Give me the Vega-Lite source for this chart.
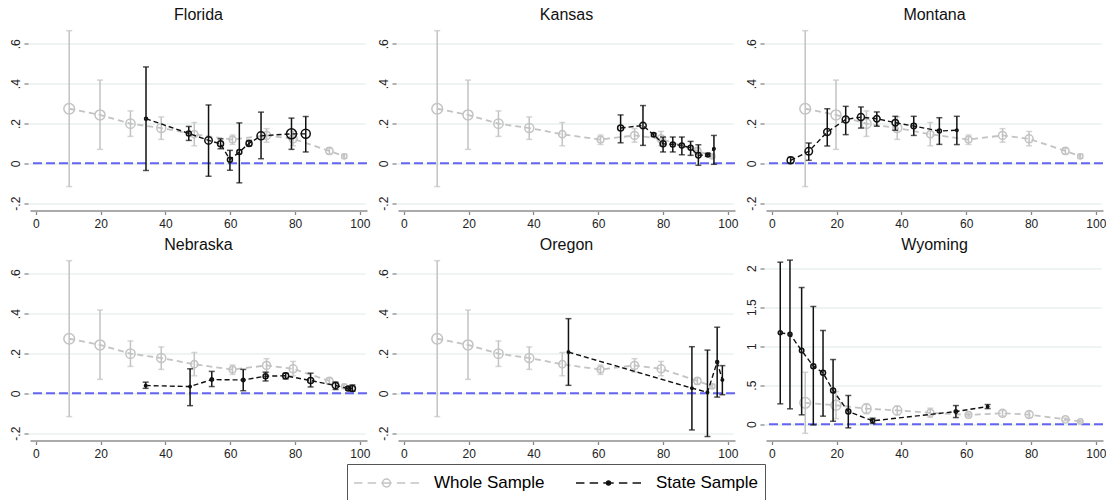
{
  "$schema": "https://vega.github.io/schema/vega-lite/v6.json",
  "padding": {"left": 9, "top": 6.5, "right": 0, "bottom": 0},
  "autosize": {"type": "pad"},
  "columns": 3,
  "spacing": {"row": 48, "column": 31},
  "bounds": "flush",
  "datasets": {
    "whole": [
      {"x": 10.3, "y": 0.274, "lo": -0.117, "hi": 0.666, "w": 114},
      {"x": 19.8, "y": 0.243, "lo": 0.07, "hi": 0.418, "w": 100},
      {"x": 29.2, "y": 0.199, "lo": 0.135, "hi": 0.263, "w": 86},
      {"x": 38.7, "y": 0.177, "lo": 0.12, "hi": 0.233, "w": 81},
      {"x": 48.9, "y": 0.146, "lo": 0.088, "hi": 0.205, "w": 53},
      {"x": 60.7, "y": 0.119, "lo": 0.095, "hi": 0.142, "w": 45},
      {"x": 71.2, "y": 0.14, "lo": 0.106, "hi": 0.174, "w": 64},
      {"x": 79.4, "y": 0.123, "lo": 0.088, "hi": 0.16, "w": 64},
      {"x": 90.6, "y": 0.062, "lo": 0.045, "hi": 0.078, "w": 53},
      {"x": 95.2, "y": 0.035, "lo": 0.025, "hi": 0.045, "w": 28}
    ],
    "state": [
      {"state": "Florida", "x": 34.0, "y": 0.224, "lo": -0.036, "hi": 0.484, "w": 9},
      {"state": "Florida", "x": 47.2, "y": 0.15, "lo": 0.115, "hi": 0.185, "w": 25},
      {"state": "Florida", "x": 53.3, "y": 0.115, "lo": -0.065, "hi": 0.293, "w": 56},
      {"state": "Florida", "x": 57.0, "y": 0.098, "lo": 0.073, "hi": 0.123, "w": 36},
      {"state": "Florida", "x": 59.9, "y": 0.018, "lo": -0.035, "hi": 0.065, "w": 25},
      {"state": "Florida", "x": 62.8, "y": 0.057, "lo": -0.098, "hi": 0.203, "w": 25},
      {"state": "Florida", "x": 65.8, "y": 0.1, "lo": 0.088, "hi": 0.115, "w": 36},
      {"state": "Florida", "x": 69.5, "y": 0.138, "lo": 0.023, "hi": 0.257, "w": 64},
      {"state": "Florida", "x": 78.9, "y": 0.148, "lo": 0.07, "hi": 0.227, "w": 100},
      {"state": "Florida", "x": 83.3, "y": 0.148, "lo": 0.057, "hi": 0.235, "w": 81},
      {"state": "Kansas", "x": 66.9, "y": 0.177, "lo": 0.103, "hi": 0.243, "w": 36},
      {"state": "Kansas", "x": 73.8, "y": 0.19, "lo": 0.09, "hi": 0.29, "w": 42},
      {"state": "Kansas", "x": 77.1, "y": 0.143, "lo": 0.135, "hi": 0.15, "w": 20},
      {"state": "Kansas", "x": 80.0, "y": 0.098, "lo": 0.057, "hi": 0.132, "w": 36},
      {"state": "Kansas", "x": 83.0, "y": 0.095, "lo": 0.057, "hi": 0.132, "w": 25},
      {"state": "Kansas", "x": 85.8, "y": 0.09, "lo": 0.043, "hi": 0.132, "w": 25},
      {"state": "Kansas", "x": 88.5, "y": 0.078, "lo": 0.04, "hi": 0.11, "w": 25},
      {"state": "Kansas", "x": 90.9, "y": 0.04, "lo": -0.01, "hi": 0.093, "w": 30},
      {"state": "Kansas", "x": 93.8, "y": 0.042, "lo": 0.035, "hi": 0.05, "w": 16},
      {"state": "Kansas", "x": 95.7, "y": 0.073, "lo": -0.005, "hi": 0.14, "w": 6},
      {"state": "Montana", "x": 5.8, "y": 0.015, "lo": 0.0, "hi": 0.03, "w": 49},
      {"state": "Montana", "x": 11.4, "y": 0.06, "lo": 0.015, "hi": 0.102, "w": 56},
      {"state": "Montana", "x": 17.1, "y": 0.157, "lo": 0.087, "hi": 0.274, "w": 49},
      {"state": "Montana", "x": 22.8, "y": 0.22, "lo": 0.144, "hi": 0.286, "w": 49},
      {"state": "Montana", "x": 27.5, "y": 0.232, "lo": 0.177, "hi": 0.283, "w": 49},
      {"state": "Montana", "x": 32.4, "y": 0.224, "lo": 0.186, "hi": 0.258, "w": 42},
      {"state": "Montana", "x": 38.1, "y": 0.204, "lo": 0.166, "hi": 0.236, "w": 42},
      {"state": "Montana", "x": 43.8, "y": 0.187, "lo": 0.14, "hi": 0.236, "w": 30},
      {"state": "Montana", "x": 51.7, "y": 0.162, "lo": 0.095, "hi": 0.229, "w": 16},
      {"state": "Montana", "x": 57.1, "y": 0.166, "lo": 0.094, "hi": 0.236, "w": 6},
      {"state": "Nebraska", "x": 33.9, "y": 0.039, "lo": 0.025, "hi": 0.056, "w": 6},
      {"state": "Nebraska", "x": 47.6, "y": 0.034, "lo": -0.062, "hi": 0.123, "w": 6},
      {"state": "Nebraska", "x": 54.3, "y": 0.069, "lo": 0.034, "hi": 0.11, "w": 12},
      {"state": "Nebraska", "x": 64.0, "y": 0.067, "lo": 0.013, "hi": 0.12, "w": 12},
      {"state": "Nebraska", "x": 70.9, "y": 0.086, "lo": 0.062, "hi": 0.106, "w": 25},
      {"state": "Nebraska", "x": 77.1, "y": 0.088, "lo": 0.072, "hi": 0.101, "w": 36},
      {"state": "Nebraska", "x": 84.8, "y": 0.064, "lo": 0.032, "hi": 0.101, "w": 36},
      {"state": "Nebraska", "x": 92.5, "y": 0.039, "lo": 0.019, "hi": 0.056, "w": 42},
      {"state": "Nebraska", "x": 96.4, "y": 0.024, "lo": 0.015, "hi": 0.033, "w": 25},
      {"state": "Nebraska", "x": 97.7, "y": 0.024, "lo": 0.01, "hi": 0.042, "w": 36},
      {"state": "Oregon", "x": 50.8, "y": 0.207, "lo": 0.04, "hi": 0.375, "w": 6},
      {"state": "Oregon", "x": 88.9, "y": 0.026, "lo": -0.184, "hi": 0.234, "w": 6},
      {"state": "Oregon", "x": 93.7, "y": 0.005, "lo": -0.217, "hi": 0.217, "w": 6},
      {"state": "Oregon", "x": 96.7, "y": 0.157, "lo": -0.019, "hi": 0.332, "w": 9},
      {"state": "Oregon", "x": 98.3, "y": 0.067, "lo": -0.007, "hi": 0.139, "w": 6},
      {"state": "Wyoming", "x": 2.6, "y": 1.171, "lo": 0.261, "hi": 2.077, "w": 16},
      {"state": "Wyoming", "x": 5.6, "y": 1.154, "lo": 0.197, "hi": 2.103, "w": 16},
      {"state": "Wyoming", "x": 9.2, "y": 0.944, "lo": 0.12, "hi": 1.752, "w": 20},
      {"state": "Wyoming", "x": 12.8, "y": 0.744, "lo": -0.009, "hi": 1.509, "w": 25},
      {"state": "Wyoming", "x": 15.8, "y": 0.658, "lo": 0.103, "hi": 1.201, "w": 25},
      {"state": "Wyoming", "x": 18.9, "y": 0.432, "lo": 0.038, "hi": 0.829, "w": 25},
      {"state": "Wyoming", "x": 23.6, "y": 0.162, "lo": -0.047, "hi": 0.368, "w": 25},
      {"state": "Wyoming", "x": 31.1, "y": 0.043, "lo": 0.009, "hi": 0.077, "w": 16},
      {"state": "Wyoming", "x": 56.8, "y": 0.162, "lo": 0.085, "hi": 0.239, "w": 12},
      {"state": "Wyoming", "x": 66.6, "y": 0.226, "lo": 0.2, "hi": 0.252, "w": 6}
    ]
  },
  "concat": [
    {
      "title": "Florida", "width": 337, "height": 182,
      "layer": [
        {"data": {"values": [{}]}, "mark": {"type": "rule", "color": "#6464f0", "strokeWidth": 2, "strokeDash": [9, 4]},
         "encoding": {"y": {"datum": 0, "type": "quantitative", "scale": {"domain": [-0.237, 0.677], "nice": false, "zero": false}, "axis": {"values": [-0.2, 0, 0.2, 0.4, 0.6], "title": null}}}},
        {"encoding": {"x": {"field": "x", "type": "quantitative", "scale": {"domain": [-1.8, 102.2], "nice": false, "zero": false}, "axis": {"values": [0, 20, 40, 60, 80, 100], "title": null}}},
         "layer": [
          {"data": {"name": "whole"}, "mark": {"type": "errorbar", "ticks": {"color": "#c3c3c3"}, "rule": {"color": "#c3c3c3"}, "size": 6, "thickness": 1.5}, "encoding": {"y": {"field": "lo", "type": "quantitative", "title": null}, "y2": {"field": "hi"}}},
          {"data": {"name": "whole"}, "mark": {"type": "line", "strokeDash": [6, 4], "strokeWidth": 1.8}, "encoding": {"y": {"field": "y", "type": "quantitative", "title": null}, "color": {"datum": "Whole Sample", "type": "nominal", "scale": {"domain": ["Whole Sample", "State Sample"], "range": ["#c3c3c3", "#111111"]},
            "legend": {"orient": "none", "legendX": 317, "legendY": 435.5, "direction": "horizontal", "title": null, "symbolSize": 4225, "clipHeight": 26, "labelFontSize": 17, "labelFont": "Liberation Sans", "labelColor": "#000", "labelOffset": 14, "columnPadding": 30, "padding": 6, "strokeColor": "#555", "fillColor": "white", "symbolStrokeWidth": 1.5,
              "encode": {"symbols": {"update": {
                "shape": {"signal": "datum.value === 'Whole Sample' ? 'M-1,0H-0.74M-0.58,0H-0.32M-0.16,0H0.16M0.32,0H0.58M0.74,0H1M0.12,0A0.12,0.12,0,1,1,-0.12,0A0.12,0.12,0,1,1,0.12,0' : 'M-1,0H-0.74M-0.58,0H-0.32M-0.16,0H0.16M0.32,0H0.58M0.74,0H1M0.06,0A0.06,0.06,0,1,1,-0.06,0A0.06,0.06,0,1,1,0.06,0'"},
                "fill": {"signal": "datum.value === 'Whole Sample' ? 'transparent' : '#111111'"},
                "stroke": {"signal": "datum.value === 'Whole Sample' ? '#c3c3c3' : '#111111'"},
                "strokeDash": {"value": []},
                "opacity": {"value": 1}
              }}}}}}},
          {"data": {"name": "whole"}, "mark": {"type": "point", "shape": "circle", "filled": false, "color": "#c3c3c3", "strokeWidth": 1.5, "opacity": 1}, "encoding": {"y": {"field": "y", "type": "quantitative", "title": null}, "size": {"field": "w", "type": "quantitative", "scale": {"domain": [0, 100], "range": [0, 100]}, "legend": null}}},
          {"data": {"name": "state"}, "transform": [{"filter": "datum.state === 'Florida'"}], "mark": {"type": "errorbar", "ticks": {"color": "#111111"}, "rule": {"color": "#111111"}, "size": 6, "thickness": 1.5}, "encoding": {"y": {"field": "lo", "type": "quantitative", "title": null}, "y2": {"field": "hi"}}},
          {"data": {"name": "state"}, "transform": [{"filter": "datum.state === 'Florida'"}], "mark": {"type": "line", "strokeDash": [5, 3], "strokeWidth": 1.4}, "encoding": {"y": {"field": "y", "type": "quantitative", "title": null}, "color": {"datum": "State Sample", "type": "nominal"}}},
          {"data": {"name": "state"}, "transform": [{"filter": "datum.state === 'Florida'"}], "mark": {"type": "point", "shape": "circle", "filled": false, "color": "#111111", "strokeWidth": 1.5, "opacity": 1}, "encoding": {"y": {"field": "y", "type": "quantitative", "title": null}, "size": {"field": "w", "type": "quantitative", "legend": null}}}
         ]}
      ]
    },
    {
      "title": "Kansas", "width": 337, "height": 182,
      "layer": [
        {"data": {"values": [{}]}, "mark": {"type": "rule", "color": "#6464f0", "strokeWidth": 2, "strokeDash": [9, 4]},
         "encoding": {"y": {"datum": 0, "type": "quantitative", "scale": {"domain": [-0.237, 0.677], "nice": false, "zero": false}, "axis": {"values": [-0.2, 0, 0.2, 0.4, 0.6], "title": null}}}},
        {"encoding": {"x": {"field": "x", "type": "quantitative", "scale": {"domain": [-1.8, 102.2], "nice": false, "zero": false}, "axis": {"values": [0, 20, 40, 60, 80, 100], "title": null}}},
         "layer": [
          {"data": {"name": "whole"}, "mark": {"type": "errorbar", "ticks": {"color": "#c3c3c3"}, "rule": {"color": "#c3c3c3"}, "size": 6, "thickness": 1.5}, "encoding": {"y": {"field": "lo", "type": "quantitative", "title": null}, "y2": {"field": "hi"}}},
          {"data": {"name": "whole"}, "mark": {"type": "line", "strokeDash": [6, 4], "strokeWidth": 1.8}, "encoding": {"y": {"field": "y", "type": "quantitative", "title": null}, "color": {"datum": "Whole Sample", "type": "nominal"}}},
          {"data": {"name": "whole"}, "mark": {"type": "point", "shape": "circle", "filled": false, "color": "#c3c3c3", "strokeWidth": 1.5, "opacity": 1}, "encoding": {"y": {"field": "y", "type": "quantitative", "title": null}, "size": {"field": "w", "type": "quantitative", "legend": null}}},
          {"data": {"name": "state"}, "transform": [{"filter": "datum.state === 'Kansas'"}], "mark": {"type": "errorbar", "ticks": {"color": "#111111"}, "rule": {"color": "#111111"}, "size": 6, "thickness": 1.5}, "encoding": {"y": {"field": "lo", "type": "quantitative", "title": null}, "y2": {"field": "hi"}}},
          {"data": {"name": "state"}, "transform": [{"filter": "datum.state === 'Kansas'"}], "mark": {"type": "line", "strokeDash": [5, 3], "strokeWidth": 1.4}, "encoding": {"y": {"field": "y", "type": "quantitative", "title": null}, "color": {"datum": "State Sample", "type": "nominal"}}},
          {"data": {"name": "state"}, "transform": [{"filter": "datum.state === 'Kansas'"}], "mark": {"type": "point", "shape": "circle", "filled": false, "color": "#111111", "strokeWidth": 1.5, "opacity": 1}, "encoding": {"y": {"field": "y", "type": "quantitative", "title": null}, "size": {"field": "w", "type": "quantitative", "legend": null}}}
         ]}
      ]
    },
    {
      "title": "Montana", "width": 337, "height": 182,
      "layer": [
        {"data": {"values": [{}]}, "mark": {"type": "rule", "color": "#6464f0", "strokeWidth": 2, "strokeDash": [9, 4]},
         "encoding": {"y": {"datum": 0, "type": "quantitative", "scale": {"domain": [-0.237, 0.677], "nice": false, "zero": false}, "axis": {"values": [-0.2, 0, 0.2, 0.4, 0.6], "title": null}}}},
        {"encoding": {"x": {"field": "x", "type": "quantitative", "scale": {"domain": [-1.8, 102.2], "nice": false, "zero": false}, "axis": {"values": [0, 20, 40, 60, 80, 100], "title": null}}},
         "layer": [
          {"data": {"name": "whole"}, "mark": {"type": "errorbar", "ticks": {"color": "#c3c3c3"}, "rule": {"color": "#c3c3c3"}, "size": 6, "thickness": 1.5}, "encoding": {"y": {"field": "lo", "type": "quantitative", "title": null}, "y2": {"field": "hi"}}},
          {"data": {"name": "whole"}, "mark": {"type": "line", "strokeDash": [6, 4], "strokeWidth": 1.8}, "encoding": {"y": {"field": "y", "type": "quantitative", "title": null}, "color": {"datum": "Whole Sample", "type": "nominal"}}},
          {"data": {"name": "whole"}, "mark": {"type": "point", "shape": "circle", "filled": false, "color": "#c3c3c3", "strokeWidth": 1.5, "opacity": 1}, "encoding": {"y": {"field": "y", "type": "quantitative", "title": null}, "size": {"field": "w", "type": "quantitative", "legend": null}}},
          {"data": {"name": "state"}, "transform": [{"filter": "datum.state === 'Montana'"}], "mark": {"type": "errorbar", "ticks": {"color": "#111111"}, "rule": {"color": "#111111"}, "size": 6, "thickness": 1.5}, "encoding": {"y": {"field": "lo", "type": "quantitative", "title": null}, "y2": {"field": "hi"}}},
          {"data": {"name": "state"}, "transform": [{"filter": "datum.state === 'Montana'"}], "mark": {"type": "line", "strokeDash": [5, 3], "strokeWidth": 1.4}, "encoding": {"y": {"field": "y", "type": "quantitative", "title": null}, "color": {"datum": "State Sample", "type": "nominal"}}},
          {"data": {"name": "state"}, "transform": [{"filter": "datum.state === 'Montana'"}], "mark": {"type": "point", "shape": "circle", "filled": false, "color": "#111111", "strokeWidth": 1.5, "opacity": 1}, "encoding": {"y": {"field": "y", "type": "quantitative", "title": null}, "size": {"field": "w", "type": "quantitative", "legend": null}}}
         ]}
      ]
    },
    {
      "title": "Nebraska", "width": 337, "height": 182,
      "layer": [
        {"data": {"values": [{}]}, "mark": {"type": "rule", "color": "#6464f0", "strokeWidth": 2, "strokeDash": [9, 4]},
         "encoding": {"y": {"datum": 0, "type": "quantitative", "scale": {"domain": [-0.237, 0.677], "nice": false, "zero": false}, "axis": {"values": [-0.2, 0, 0.2, 0.4, 0.6], "title": null}}}},
        {"encoding": {"x": {"field": "x", "type": "quantitative", "scale": {"domain": [-1.8, 102.2], "nice": false, "zero": false}, "axis": {"values": [0, 20, 40, 60, 80, 100], "title": null}}},
         "layer": [
          {"data": {"name": "whole"}, "mark": {"type": "errorbar", "ticks": {"color": "#c3c3c3"}, "rule": {"color": "#c3c3c3"}, "size": 6, "thickness": 1.5}, "encoding": {"y": {"field": "lo", "type": "quantitative", "title": null}, "y2": {"field": "hi"}}},
          {"data": {"name": "whole"}, "mark": {"type": "line", "strokeDash": [6, 4], "strokeWidth": 1.8}, "encoding": {"y": {"field": "y", "type": "quantitative", "title": null}, "color": {"datum": "Whole Sample", "type": "nominal"}}},
          {"data": {"name": "whole"}, "mark": {"type": "point", "shape": "circle", "filled": false, "color": "#c3c3c3", "strokeWidth": 1.5, "opacity": 1}, "encoding": {"y": {"field": "y", "type": "quantitative", "title": null}, "size": {"field": "w", "type": "quantitative", "legend": null}}},
          {"data": {"name": "state"}, "transform": [{"filter": "datum.state === 'Nebraska'"}], "mark": {"type": "errorbar", "ticks": {"color": "#111111"}, "rule": {"color": "#111111"}, "size": 6, "thickness": 1.5}, "encoding": {"y": {"field": "lo", "type": "quantitative", "title": null}, "y2": {"field": "hi"}}},
          {"data": {"name": "state"}, "transform": [{"filter": "datum.state === 'Nebraska'"}], "mark": {"type": "line", "strokeDash": [5, 3], "strokeWidth": 1.4}, "encoding": {"y": {"field": "y", "type": "quantitative", "title": null}, "color": {"datum": "State Sample", "type": "nominal"}}},
          {"data": {"name": "state"}, "transform": [{"filter": "datum.state === 'Nebraska'"}], "mark": {"type": "point", "shape": "circle", "filled": false, "color": "#111111", "strokeWidth": 1.5, "opacity": 1}, "encoding": {"y": {"field": "y", "type": "quantitative", "title": null}, "size": {"field": "w", "type": "quantitative", "legend": null}}}
         ]}
      ]
    },
    {
      "title": "Oregon", "width": 337, "height": 182,
      "layer": [
        {"data": {"values": [{}]}, "mark": {"type": "rule", "color": "#6464f0", "strokeWidth": 2, "strokeDash": [9, 4]},
         "encoding": {"y": {"datum": 0, "type": "quantitative", "scale": {"domain": [-0.237, 0.677], "nice": false, "zero": false}, "axis": {"values": [-0.2, 0, 0.2, 0.4, 0.6], "title": null}}}},
        {"encoding": {"x": {"field": "x", "type": "quantitative", "scale": {"domain": [-1.8, 102.2], "nice": false, "zero": false}, "axis": {"values": [0, 20, 40, 60, 80, 100], "title": null}}},
         "layer": [
          {"data": {"name": "whole"}, "mark": {"type": "errorbar", "ticks": {"color": "#c3c3c3"}, "rule": {"color": "#c3c3c3"}, "size": 6, "thickness": 1.5}, "encoding": {"y": {"field": "lo", "type": "quantitative", "title": null}, "y2": {"field": "hi"}}},
          {"data": {"name": "whole"}, "mark": {"type": "line", "strokeDash": [6, 4], "strokeWidth": 1.8}, "encoding": {"y": {"field": "y", "type": "quantitative", "title": null}, "color": {"datum": "Whole Sample", "type": "nominal"}}},
          {"data": {"name": "whole"}, "mark": {"type": "point", "shape": "circle", "filled": false, "color": "#c3c3c3", "strokeWidth": 1.5, "opacity": 1}, "encoding": {"y": {"field": "y", "type": "quantitative", "title": null}, "size": {"field": "w", "type": "quantitative", "legend": null}}},
          {"data": {"name": "state"}, "transform": [{"filter": "datum.state === 'Oregon'"}], "mark": {"type": "errorbar", "ticks": {"color": "#111111"}, "rule": {"color": "#111111"}, "size": 6, "thickness": 1.5}, "encoding": {"y": {"field": "lo", "type": "quantitative", "title": null}, "y2": {"field": "hi"}}},
          {"data": {"name": "state"}, "transform": [{"filter": "datum.state === 'Oregon'"}], "mark": {"type": "line", "strokeDash": [5, 3], "strokeWidth": 1.4}, "encoding": {"y": {"field": "y", "type": "quantitative", "title": null}, "color": {"datum": "State Sample", "type": "nominal"}}},
          {"data": {"name": "state"}, "transform": [{"filter": "datum.state === 'Oregon'"}], "mark": {"type": "point", "shape": "circle", "filled": false, "color": "#111111", "strokeWidth": 1.5, "opacity": 1}, "encoding": {"y": {"field": "y", "type": "quantitative", "title": null}, "size": {"field": "w", "type": "quantitative", "legend": null}}}
         ]}
      ]
    },
    {
      "title": "Wyoming", "width": 337, "height": 182,
      "layer": [
        {"data": {"values": [{}]}, "mark": {"type": "rule", "color": "#6464f0", "strokeWidth": 2, "strokeDash": [9, 4]},
         "encoding": {"y": {"datum": 0, "type": "quantitative", "scale": {"domain": [-0.209, 2.124], "nice": false, "zero": false}, "axis": {"values": [0, 0.5, 1, 1.5, 2], "title": null}}}},
        {"encoding": {"x": {"field": "x", "type": "quantitative", "scale": {"domain": [-1.8, 102.2], "nice": false, "zero": false}, "axis": {"values": [0, 20, 40, 60, 80, 100], "title": null}}},
         "layer": [
          {"data": {"name": "whole"}, "mark": {"type": "errorbar", "ticks": {"color": "#c3c3c3"}, "rule": {"color": "#c3c3c3"}, "size": 6, "thickness": 1.5}, "encoding": {"y": {"field": "lo", "type": "quantitative", "title": null}, "y2": {"field": "hi"}}},
          {"data": {"name": "whole"}, "mark": {"type": "line", "strokeDash": [6, 4], "strokeWidth": 1.8}, "encoding": {"y": {"field": "y", "type": "quantitative", "title": null}, "color": {"datum": "Whole Sample", "type": "nominal"}}},
          {"data": {"name": "whole"}, "mark": {"type": "point", "shape": "circle", "filled": false, "color": "#c3c3c3", "strokeWidth": 1.5, "opacity": 1}, "encoding": {"y": {"field": "y", "type": "quantitative", "title": null}, "size": {"field": "w", "type": "quantitative", "legend": null}}},
          {"data": {"name": "state"}, "transform": [{"filter": "datum.state === 'Wyoming'"}], "mark": {"type": "errorbar", "ticks": {"color": "#111111"}, "rule": {"color": "#111111"}, "size": 6, "thickness": 1.5}, "encoding": {"y": {"field": "lo", "type": "quantitative", "title": null}, "y2": {"field": "hi"}}},
          {"data": {"name": "state"}, "transform": [{"filter": "datum.state === 'Wyoming'"}], "mark": {"type": "line", "strokeDash": [5, 3], "strokeWidth": 1.4}, "encoding": {"y": {"field": "y", "type": "quantitative", "title": null}, "color": {"datum": "State Sample", "type": "nominal"}}},
          {"data": {"name": "state"}, "transform": [{"filter": "datum.state === 'Wyoming'"}], "mark": {"type": "point", "shape": "circle", "filled": false, "color": "#111111", "strokeWidth": 1.5, "opacity": 1}, "encoding": {"y": {"field": "y", "type": "quantitative", "title": null}, "size": {"field": "w", "type": "quantitative", "legend": null}}}
         ]}
      ]
    }
  ],
  "config": {
    "font": "Liberation Sans",
    "view": {"stroke": null},
    "axis": {"labelFontSize": 12, "labelColor": "#222", "labelFont": "Liberation Sans", "tickColor": "#888", "tickWidth": 1.3, "tickSize": 4, "labelPadding": 2, "gridColor": "#e8efef", "gridWidth": 1.3},
    "axisX": {"grid": false, "domainColor": "#aaaaaa", "domainWidth": 2, "labelFlush": false, "labelPadding": 4},
    "axisY": {"grid": true, "domain": false, "labelAngle": -90, "offset": 2, "labelExpr": "replace(replace(format(datum.value, '.1~f'), '0.', '.'), '\u2212', '-')"},
    "title": {"fontSize": 16, "font": "Liberation Sans", "fontWeight": "normal", "color": "#111", "offset": 6, "anchor": "middle"}
  }
}
